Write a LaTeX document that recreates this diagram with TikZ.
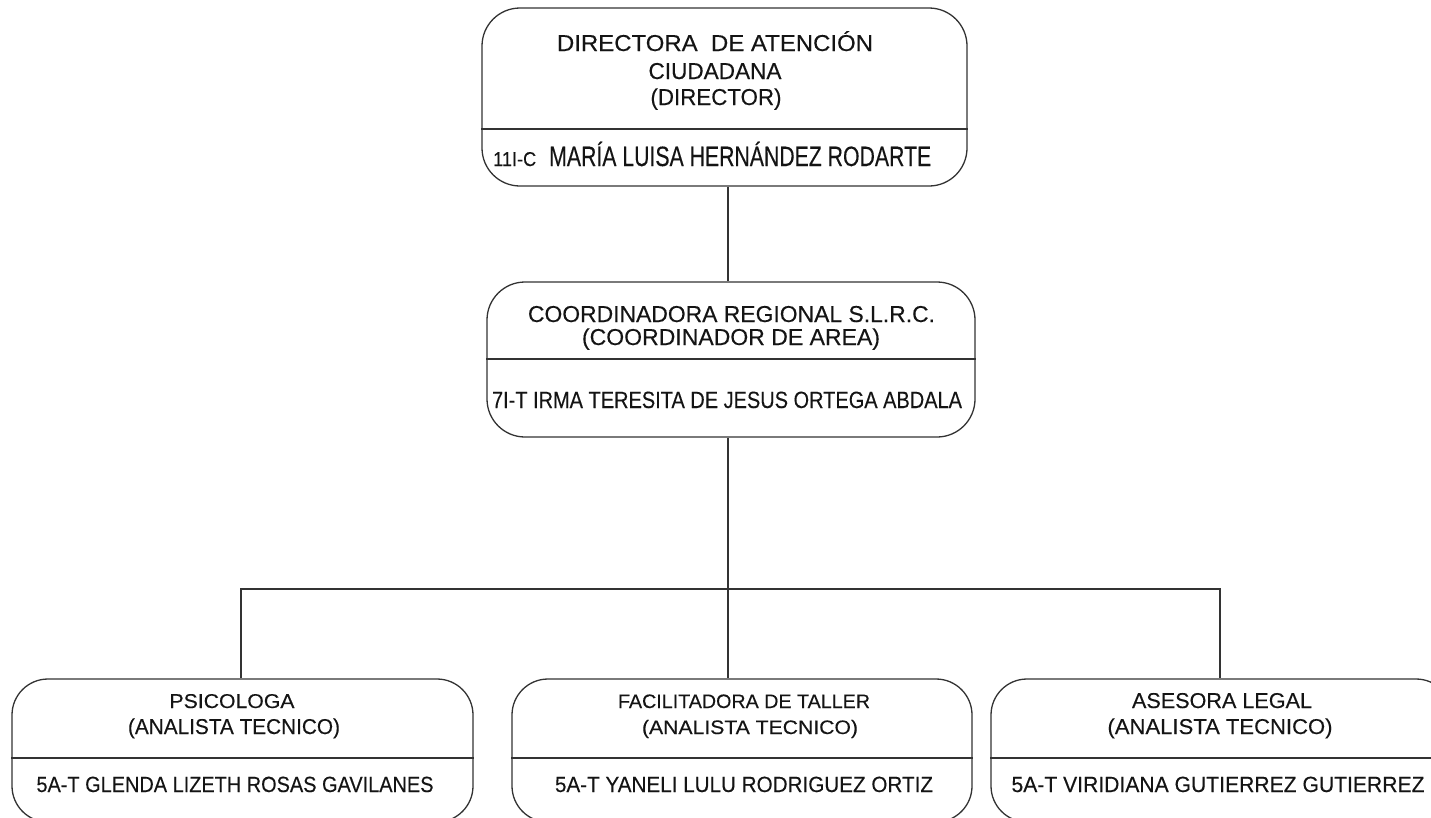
\documentclass[tikz,border=0pt]{standalone}
\usepackage{fontspec}
\setmainfont{Liberation Sans}[FakeBold=0.25]
\newcommand\fw[3]{{\fontsize{#2}{#2}\selectfont\resizebox{#1pt}{\height}{#3}}}
\definecolor{ln}{HTML}{333333}
\definecolor{tx}{HTML}{141414}
\tikzset{
  box/.style={draw=ln, line width=1.3pt, rounded corners=#1, inner sep=0pt},
  box/.default=36pt,
  txt/.style={anchor=base, inner sep=0pt, text=tx},
  txtw/.style={anchor=base west, inner sep=0pt, text=tx},
  conn/.style={draw=ln, line width=1.3pt},
  divl/.style={draw=ln, line width=1.1pt}
}
\begin{document}
\begin{tikzpicture}[x=1pt,y=-1pt]
\useasboundingbox (0,0) rectangle (1431,817);
\clip (0,0) rectangle (1431,817);
% boxes
\node[box=38pt, minimum width=485pt, minimum height=178pt] (dir) at (724.5,97) {};
\node[box=38pt, minimum width=488pt, minimum height=155pt] (coord) at (731,359.5) {};
\node[box, minimum width=461pt, minimum height=143pt] (psi) at (242.5,750.5) {};
\node[box, minimum width=460pt, minimum height=143pt] (fac) at (742,750.5) {};
\node[box, minimum width=461pt, minimum height=143pt] (ase) at (1221.5,750.5) {};
% dividers
\draw[divl] (dir.west |- 0,129) -- (dir.east |- 0,129);
\draw[divl] (coord.west |- 0,359) -- (coord.east |- 0,359);
\draw[divl] (psi.west |- 0,758) -- (psi.east |- 0,758);
\draw[divl] (fac.west |- 0,758) -- (fac.east |- 0,758);
\draw[divl] (ase.west |- 0,758) -- (ase.east |- 0,758);
% connectors
\coordinate (j) at (728,589);
\coordinate (jl) at (241,589);
\coordinate (jr) at (1220,589);
\draw[conn] (j |- dir.south) -- (j |- coord.north);
\draw[conn] (j |- coord.south) -- (j |- fac.north);
\draw[conn] (jl |- psi.north) -- (jl) -- (jr) -- (jr |- ase.north);
% top texts
\node[txt] (d1) at (715,51) {\fw{316}{23}{DIRECTORA\ \ DE ATENCIÓN}};
\node[txt] (d2) at (715,79) {\fw{133}{23}{CIUDADANA}};
\node[txt] (d3) at (716,105) {\fw{131}{23}{(DIRECTOR)}};
\node[txtw] (d4) at (493,166) {\fw{43}{20}{11I-C}};
\node[txtw] (d5) at (549,166) {\fw{382}{28}{MARÍA LUISA HERNÁNDEZ RODARTE}};
% middle texts
\node[txt] (c1) at (731.5,322) {\fw{407}{23}{COORDINADORA REGIONAL S.L.R.C.}};
\node[txt] (c2) at (731,345) {\fw{298}{23}{(COORDINADOR DE AREA)}};
\node[txt] (c3) at (727,408) {\fw{470}{23.5}{7I-T IRMA TERESITA DE JESUS ORTEGA ABDALA}};
% bottom texts
\node[txt] (p1) at (232,708) {\fw{125}{20}{PSICOLOGA}};
\node[txt] (p2) at (234,734) {\fw{212}{21.5}{(ANALISTA TECNICO)}};
\node[txt] (p3) at (235,792) {\fw{397}{22}{5A-T GLENDA LIZETH ROSAS GAVILANES}};
\node[txt] (f1) at (744,708) {\fw{252}{19.5}{FACILITADORA DE TALLER}};
\node[txt] (f2) at (750,734) {\fw{216}{19.5}{(ANALISTA TECNICO)}};
\node[txt] (f3) at (744,792) {\fw{378}{22}{5A-T YANELI LULU RODRIGUEZ ORTIZ}};
\node[txt] (a1) at (1222,708) {\fw{180}{21.5}{ASESORA LEGAL}};
\node[txt] (a2) at (1220,734) {\fw{225}{21.5}{(ANALISTA TECNICO)}};
\node[txt] (a3) at (1218,792) {\fw{413}{22}{5A-T VIRIDIANA GUTIERREZ GUTIERREZ}};
\end{tikzpicture}
\end{document}
